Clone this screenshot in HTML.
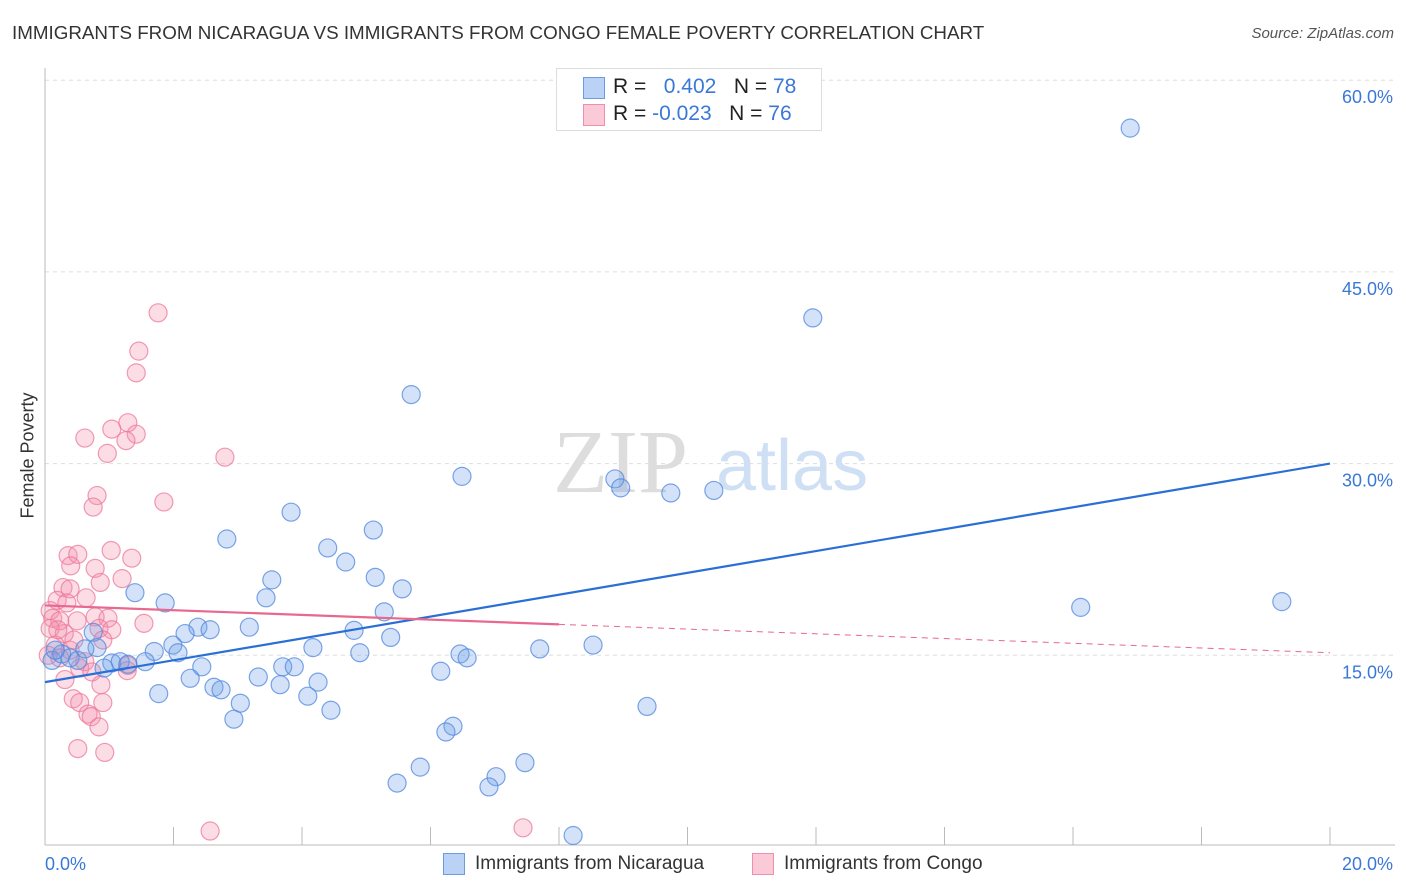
<!DOCTYPE html>
<html><head><meta charset="utf-8"><style>
body{margin:0;background:#fff;font-family:"Liberation Sans",sans-serif;}
#wrap{position:relative;width:1406px;height:892px;overflow:hidden;}
.t{position:absolute;white-space:nowrap;}
</style></head><body>
<div id="wrap">
<div class="t" style="left:12px;top:22px;font-size:18.8px;color:#333;">IMMIGRANTS FROM NICARAGUA VS IMMIGRANTS FROM CONGO FEMALE POVERTY CORRELATION CHART</div>
<div class="t" style="right:12px;top:25px;font-size:15px;color:#555;font-style:italic;">Source: ZipAtlas.com</div>
<div class="t" style="left:-35px;top:445px;font-size:18px;color:#333;transform:rotate(-90deg);">Female Poverty</div>
<svg id="svg" width="1406" height="892" style="position:absolute;left:0;top:0"></svg>
<div style="position:absolute;left:556px;top:68px;width:264px;height:61px;border:1px solid #ddd;background:#fff;font-size:21px;">
 <div style="position:absolute;left:26px;top:8px;width:20px;height:20px;background:#b9d2f5;border:1px solid #6a9be0;"></div>
 <div class="t" style="left:56px;top:6px;color:#222;">R = &nbsp;&nbsp;<span style="color:#3a78d8">0.402</span>&nbsp;&nbsp;&nbsp;N = <span style="color:#3a78d8">78</span></div>
 <div style="position:absolute;left:26px;top:35px;width:20px;height:20px;background:#fbcad8;border:1px solid #ee8fab;"></div>
 <div class="t" style="left:56px;top:33px;color:#222;">R = <span style="color:#3a78d8">-0.023</span>&nbsp;&nbsp;&nbsp;N = <span style="color:#3a78d8">76</span></div>
</div>
<div style="position:absolute;left:443px;top:853px;font-size:19px;color:#333;">
 <div style="position:absolute;left:0;top:0;width:20px;height:20px;background:#b9d2f5;border:1px solid #6a9be0;"></div>
 <div class="t" style="left:32px;top:0;">Immigrants from Nicaragua</div>
 <div style="position:absolute;left:309px;top:0;width:20px;height:20px;background:#fbcad8;border:1px solid #ee8fab;"></div>
 <div class="t" style="left:341px;top:0;">Immigrants from Congo</div>
</div>
</div>
<script>
const xTicks=[0,20];
const yTicks=[15,30,45,60];
const blueX=[16.89,11.95,5.70,6.49,8.87,8.96,9.74,10.41,3.83,2.83,5.11,4.40,4.68,5.14,3.53,5.56,1.40,3.44,1.87,5.28,16.12,19.25,0.75,2.38,2.57,3.18,2.18,4.81,5.38,1.99,0.81,1.70,2.07,4.17,4.90,7.70,8.53,6.46,6.57,0.11,0.26,0.39,0.51,1.04,1.17,1.56,1.29,0.92,2.44,3.70,3.88,6.16,3.32,2.26,4.25,2.63,2.74,3.66,1.77,3.04,4.09,4.45,9.37,2.94,6.35,6.24,5.84,7.47,7.02,5.48,6.91,8.22,0.16,0.62];
const blueY=[56.25,41.4,35.4,29.0,28.8,28.1,27.7,27.9,26.2,24.1,24.8,23.4,22.3,21.1,20.9,20.2,19.9,19.5,19.1,18.4,18.75,19.2,16.8,17.2,17.0,17.2,16.7,16.95,16.4,15.8,15.6,15.3,15.2,15.6,15.2,15.5,15.8,15.1,14.8,14.6,15.1,14.8,14.6,14.4,14.5,14.5,14.3,14.0,14.1,14.1,14.1,13.75,13.3,13.2,12.9,12.5,12.3,12.7,12.0,11.25,11.8,10.7,11.0,10.0,9.45,9.0,6.25,6.6,5.5,5.0,4.7,0.9,15.4,15.5];
const pinkX=[1.76,1.46,1.42,2.80,1.29,1.04,1.42,0.62,1.26,0.97,0.81,1.85,0.75,1.03,0.36,0.51,1.35,0.40,0.78,1.20,0.86,0.28,0.39,0.64,0.19,0.34,0.08,0.12,0.23,0.50,0.78,0.98,1.54,0.08,0.30,0.84,1.04,0.90,0.16,0.39,0.05,0.23,0.62,1.29,0.54,0.73,1.28,0.31,0.87,0.44,0.54,0.90,0.67,0.72,0.84,0.51,0.93,2.57,7.44,0.45,0.20];
const pinkY=[41.8,38.8,37.1,30.5,33.2,32.7,32.3,32.0,31.8,30.8,27.5,27.0,26.6,23.2,22.8,22.9,22.6,22.0,21.8,21.0,20.7,20.3,20.2,19.5,19.3,19.1,18.5,17.9,17.7,17.7,18.0,17.9,17.5,17.1,16.7,17.1,17.0,16.2,15.8,15.4,15.0,14.8,14.5,14.2,14.0,13.7,13.8,13.1,12.7,11.6,11.3,11.3,10.4,10.2,9.4,7.7,7.4,1.25,1.5,16.2,17.0];
const blueTrend=[12.9,30.0];
const pinkTrend=[18.9,15.2];
const pinkSolidEnd=8.0;

const X0=45,X1=1330,Y0=847,YS=12.78;
const sx=v=>X0+(v-0)/(20-0)*(X1-X0);
const sy=v=>Y0-v*YS;
const svg=document.getElementById('svg');
const NS='http://www.w3.org/2000/svg';
function mk(tag,attrs){const e=document.createElementNS(NS,tag);for(const k in attrs)e.setAttribute(k,attrs[k]);svg.appendChild(e);return e;}
yTicks.forEach(t=>{
 const g=mk('line',{x1:X0,x2:1395,y1:sy(t),y2:sy(t),stroke:'#ddd','stroke-dasharray':'4,4'});
 
 
 const tx=mk('text',{x:1393,y:sy(t)+23,'text-anchor':'end','font-size':18,fill:'#3a78d8','font-family':'Liberation Sans, sans-serif'});
 tx.textContent=t.toFixed(1)+'%';
 
 
});
const ya=mk('line',{x1:X0,x2:X0,y1:68,y2:845,stroke:'#bbb'});


const xa=mk('line',{x1:X0,x2:1395,y1:845,y2:845,stroke:'#bbb'});


for(let i=0;i<=10;i++){const v=i*2;const tk=mk('line',{x1:sx(v),x2:sx(v),y1:827,y2:845,stroke:'#bbb'});
 
 }
xTicks.forEach((t,i)=>{const tx=mk('text',{x:i==0?45:1393,y:870,'text-anchor':i==0?'start':'end','font-size':18,fill:'#3a78d8','font-family':'Liberation Sans, sans-serif'});
 tx.textContent=t.toFixed(1)+'%';
 
 });
const wm=mk('text',{x:553,y:492,'font-size':90,fill:'#ddd','font-family':'Liberation Serif, serif'});
wm.textContent='ZIP';


const wm2=mk('text',{x:716,y:490,'font-size':72,fill:'#cfe0f5','font-family':'Liberation Sans, sans-serif'});
wm2.textContent='atlas';


pinkX.forEach((x,i)=>{const c=mk('circle',{cx:sx(x),cy:sy(pinkY[i]),r:9,fill:'rgba(244,143,172,0.3)',stroke:'rgba(236,120,155,0.75)','stroke-width':1.2});
 
 });
blueX.forEach((x,i)=>{const c=mk('circle',{cx:sx(x),cy:sy(blueY[i]),r:9,fill:'rgba(110,160,232,0.3)',stroke:'rgba(80,135,220,0.75)','stroke-width':1.2});
 
 });
const bt=mk('line',{x1:sx(0),y1:sy(blueTrend[0]),x2:sx(20),y2:sy(blueTrend[1]),stroke:'#2a6fd6','stroke-width':2.2});


const pm=pinkTrend[0]+(pinkTrend[1]-pinkTrend[0])*pinkSolidEnd/20;
const pt=mk('line',{x1:sx(0),y1:sy(pinkTrend[0]),x2:sx(pinkSolidEnd),y2:sy(pm),stroke:'#e8688f','stroke-width':2.2});


const pd=mk('line',{x1:sx(pinkSolidEnd),y1:sy(pm),x2:sx(20),y2:sy(pinkTrend[1]),stroke:'#e8688f','stroke-width':1,'stroke-dasharray':'6,5'});


</script>
</body></html>
